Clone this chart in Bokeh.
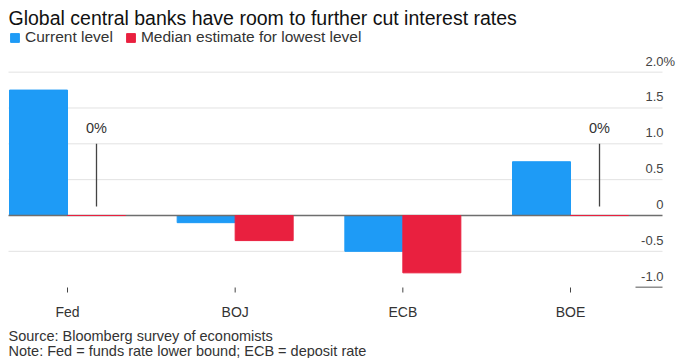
from bokeh.plotting import figure
from bokeh.models import ColumnDataSource, Legend, LegendItem, Label
from bokeh.core.properties import value
from bokeh.embed import file_html
from bokeh.resources import INLINE

# ---- data ----
categories = ["Fed", "BOJ", "ECB", "BOE"]
current_level = [1.75, -0.10, -0.50, 0.75]
median_lowest = [0.00, -0.35, -0.80, 0.00]
y_ticks = [-1.0, -0.5, 0.0, 0.5, 1.0, 1.5, 2.0]
y_tick_labels = ["-1.0", "-0.5", "0", "0.5", "1.0", "1.5", "2.0"]
callout_cats = ["Fed", "BOE"]
callout_text = ["0%", "0%"]
title_text = "Global central banks have room to further cut interest rates"
source_text = "Source: Bloomberg survey of economists"
note_text = "Note: Fed = funds rate lower bound; ECB = deposit rate"

# ---- layout / style ----
W, H = 680, 358
FONT = "Liberation Sans"
BLUE = "#1e9bf6"
RED = "#e9203f"
TXT = "#333333"
PX_PER_CAT = 167.67      # horizontal pixels per category
PX_PER_PCT = 71.67       # vertical pixels per percentage point
X0_PX, Y0_PX = 67, 215   # pixel position of first category / zero line


def xpx(px):
    return (px - X0_PX) / PX_PER_CAT


def ypx(py):
    return (Y0_PX - py) / PX_PER_PCT


pos = list(range(len(categories)))
bw = 58 / PX_PER_CAT
src = ColumnDataSource(dict(
    xc=[i - bw / 2 for i in pos],
    xm=[i + bw / 2 for i in pos],
    cur=current_level,
    med=median_lowest,
))

p = figure(width=W, height=H, x_range=(xpx(0), xpx(W)), y_range=(ypx(H), ypx(0)),
           output_backend="svg", toolbar_location=None,
           x_axis_location=None, y_axis_location=None,
           min_border=0, min_border_left=0, min_border_right=0,
           min_border_top=0, min_border_bottom=0)
p.outline_line_color = None
p.xgrid.visible = False
p.ygrid.visible = False
p.title.visible = False

gx0, gx1 = xpx(8), xpx(662)

# gridlines
grid_vals = [t for t in y_ticks if t not in (0.0, y_ticks[0])]
p.segment(x0=[gx0] * len(grid_vals), x1=[gx1] * len(grid_vals),
          y0=grid_vals, y1=grid_vals, line_color="#e2e2e2", line_width=1)
# short rule under the lowest tick label
p.segment(x0=[xpx(635)], x1=[gx1], y0=[y_ticks[0]], y1=[y_ticks[0]],
          line_color="#555555", line_width=1)

r_cur = p.vbar(x="xc", top="cur", bottom=0, width=bw, source=src,
               fill_color=BLUE, line_color=BLUE, line_width=1)
# zero line
p.segment(x0=[gx0], x1=[gx1], y0=[0], y1=[0], line_color="#6e6e6e", line_width=1.5)
r_med = p.vbar(x="xm", top="med", bottom=0, width=bw, source=src,
               fill_color=RED, line_color=RED, line_width=1)

# callouts for 0% estimates
cx = [categories.index(c) + bw / 2 for c in callout_cats]
p.segment(x0=cx, x1=cx, y0=[ypx(206)] * len(cx), y1=[1.0] * len(cx),
          line_color="#444444", line_width=1.3)
p.text(x=cx, y=[1.0] * len(cx), text=callout_text, text_align="center",
       text_baseline="alphabetic", y_offset=-16,
       text_font=value(FONT), text_font_size="14.5px", text_color=TXT)

# y tick labels, above gridlines, right aligned
p.text(x=[gx1] * len(y_ticks), y=y_ticks, text=y_tick_labels, text_align="right",
       text_baseline="alphabetic", x_offset=1, y_offset=-11,
       text_font=value(FONT), text_font_size="13px", text_color="#444444")
p.text(x=[gx1], y=[y_ticks[-1]], text=["%"], text_align="left",
       text_baseline="alphabetic", x_offset=1, y_offset=-11,
       text_font=value(FONT), text_font_size="13px", text_color="#444444")

# category ticks and labels
p.segment(x0=pos, x1=pos, y0=[ypx(287)] * len(pos), y1=[ypx(292)] * len(pos),
          line_color="#444444", line_width=1)
p.text(x=pos, y=[ypx(311)] * len(pos), text=categories, text_align="center",
       text_baseline="alphabetic",
       text_font=value(FONT), text_font_size="14px", text_color=TXT)

# legend
legend = Legend(items=[LegendItem(label="Current level", renderers=[r_cur]),
                       LegendItem(label="Median estimate for lowest level", renderers=[r_med])],
                orientation="horizontal", location=(9, H - 46),
                glyph_width=11, glyph_height=11, label_standoff=5, spacing=12,
                padding=0, margin=0, border_line_color=None, background_fill_alpha=0,
                label_text_font=FONT, label_text_font_size="15.5px", label_text_color=TXT,
                label_height=16)
p.add_layout(legend, "center")

# title and footnotes
p.add_layout(Label(x=8, y=H - 17, x_units="screen", y_units="screen", text=title_text,
                   text_font=FONT, text_font_size="19.5px", text_color="#111111",
                   text_baseline="alphabetic"))
p.add_layout(Label(x=8, y=H - 335, x_units="screen", y_units="screen", text=source_text,
                   text_font=FONT, text_font_size="14.5px", text_color=TXT,
                   text_baseline="alphabetic"))
p.add_layout(Label(x=8, y=H - 350, x_units="screen", y_units="screen", text=note_text,
                   text_font=FONT, text_font_size="14.5px", text_color=TXT,
                   text_baseline="alphabetic"))

open("out.html", "w").write(file_html(p, INLINE))
